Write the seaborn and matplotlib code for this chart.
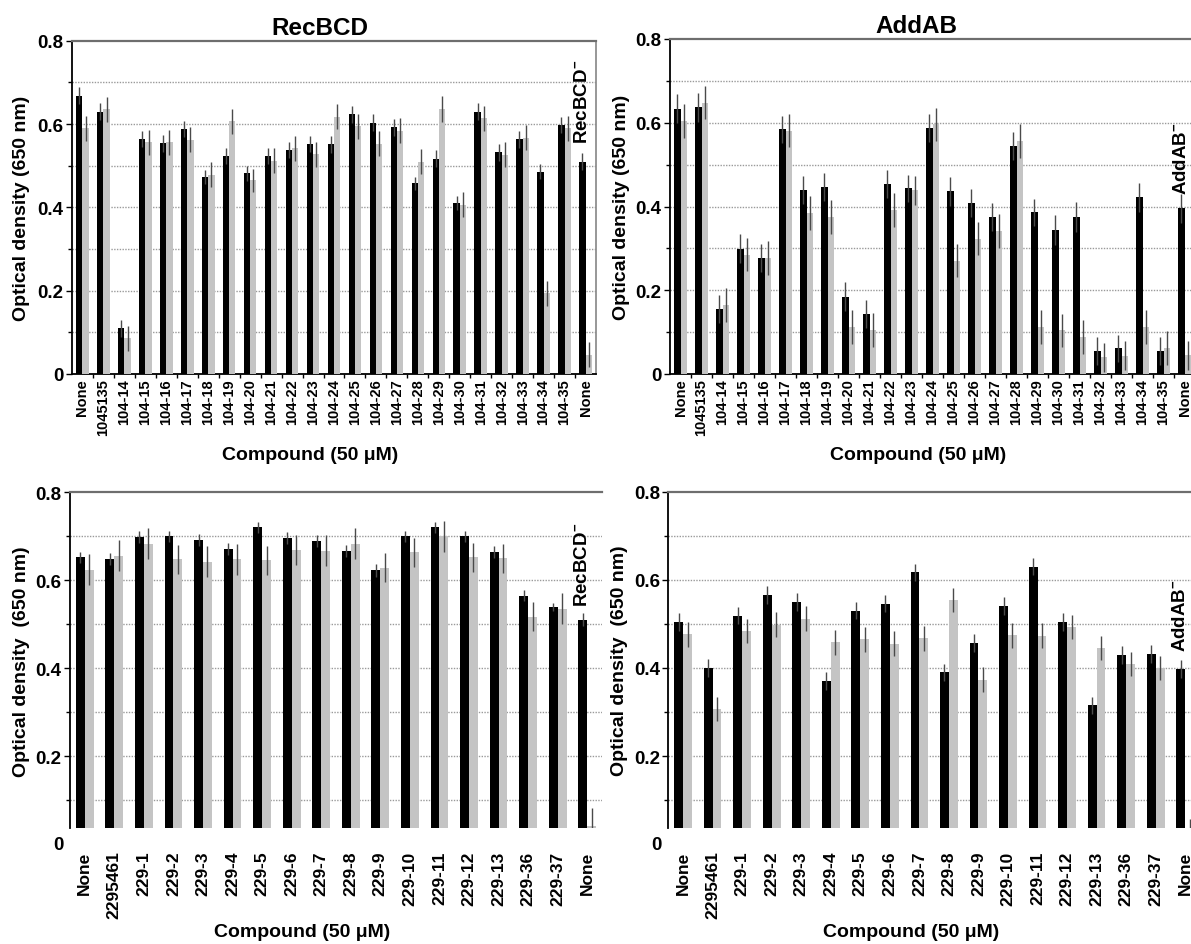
import matplotlib
matplotlib.use("Agg")
import numpy as np
import pandas as pd
import seaborn as sns
import matplotlib.pyplot as plt
import matplotlib.transforms as mtransforms
from matplotlib.ticker import MultipleLocator, FixedLocator

# ---------------- data ----------------
compounds_104 = ["None", "1045135", "104-14", "104-15", "104-16", "104-17", "104-18",
                 "104-19", "104-20", "104-21", "104-22", "104-23", "104-24", "104-25",
                 "104-26", "104-27", "104-28", "104-29", "104-30", "104-31", "104-32",
                 "104-33", "104-34", "104-35", "None"]

recbcd_104_wt = [0.668, 0.630, 0.110, 0.564, 0.554, 0.588, 0.473, 0.523, 0.482, 0.523,
                 0.538, 0.552, 0.551, 0.623, 0.603, 0.592, 0.458, 0.517, 0.410, 0.630,
                 0.532, 0.563, 0.486, 0.598, 0.510]
recbcd_104_wt_err = [0.020, 0.020, 0.020, 0.020, 0.020, 0.020, 0.016, 0.020, 0.018, 0.020,
                     0.020, 0.020, 0.020, 0.020, 0.020, 0.020, 0.016, 0.020, 0.017, 0.020,
                     0.020, 0.020, 0.017, 0.020, 0.020]
recbcd_104_mut = [0.590, 0.635, 0.086, 0.556, 0.556, 0.562, 0.478, 0.607, 0.465, 0.512,
                  0.542, 0.528, 0.618, 0.595, 0.553, 0.584, 0.509, 0.636, 0.406, 0.614,
                  0.526, 0.567, 0.194, 0.590, 0.046]
recbcd_104_mut_err = [0.030, 0.030, 0.030, 0.030, 0.030, 0.030, 0.030, 0.030, 0.028, 0.030,
                      0.030, 0.030, 0.030, 0.030, 0.030, 0.030, 0.030, 0.032, 0.030, 0.030,
                      0.030, 0.030, 0.030, 0.030, 0.030]

addab_104_wt = [0.634, 0.637, 0.155, 0.299, 0.277, 0.584, 0.439, 0.447, 0.185, 0.143,
                0.454, 0.443, 0.588, 0.436, 0.409, 0.375, 0.544, 0.386, 0.344, 0.375,
                0.055, 0.061, 0.422, 0.055, 0.396]
addab_104_wt_err = [0.035, 0.035, 0.033, 0.035, 0.033, 0.033, 0.033, 0.033, 0.035, 0.033,
                    0.033, 0.033, 0.033, 0.035, 0.033, 0.033, 0.033, 0.033, 0.035, 0.035,
                    0.033, 0.033, 0.035, 0.033, 0.035]
addab_104_mut = [0.604, 0.648, 0.165, 0.285, 0.277, 0.581, 0.384, 0.375, 0.112, 0.105,
                 0.392, 0.439, 0.596, 0.271, 0.323, 0.341, 0.556, 0.112, 0.104, 0.088,
                 0.040, 0.044, 0.112, 0.062, 0.045]
addab_104_mut_err = [0.040, 0.040, 0.040, 0.040, 0.040, 0.040, 0.040, 0.040, 0.040, 0.040,
                     0.040, 0.035, 0.040, 0.040, 0.040, 0.040, 0.040, 0.040, 0.040, 0.040,
                     0.035, 0.035, 0.040, 0.040, 0.035]

compounds_229 = ["None", "2295461", "229-1", "229-2", "229-3", "229-4", "229-5", "229-6",
                 "229-7", "229-8", "229-9", "229-10", "229-11", "229-12", "229-13",
                 "229-36", "229-37", "None"]

recbcd_229_wt = [0.652, 0.648, 0.698, 0.700, 0.692, 0.671, 0.720, 0.696, 0.689, 0.667,
                 0.623, 0.700, 0.720, 0.700, 0.664, 0.565, 0.539, 0.510]
recbcd_229_wt_err = [0.013, 0.013, 0.013, 0.013, 0.013, 0.013, 0.013, 0.013, 0.013, 0.013,
                     0.015, 0.013, 0.013, 0.013, 0.013, 0.013, 0.010, 0.015]
recbcd_229_mut = [0.624, 0.656, 0.683, 0.648, 0.642, 0.648, 0.645, 0.669, 0.667, 0.683,
                  0.628, 0.664, 0.700, 0.652, 0.650, 0.517, 0.535, 0.042]
recbcd_229_mut_err = [0.035, 0.035, 0.035, 0.033, 0.035, 0.035, 0.033, 0.035, 0.035, 0.035,
                      0.033, 0.033, 0.035, 0.033, 0.033, 0.033, 0.035, 0.040]

addab_229_wt = [0.504, 0.400, 0.519, 0.565, 0.549, 0.370, 0.530, 0.546, 0.617, 0.390,
                0.456, 0.540, 0.630, 0.504, 0.315, 0.430, 0.432, 0.398]
addab_229_wt_err = [0.020, 0.020, 0.020, 0.020, 0.020, 0.020, 0.020, 0.020, 0.020, 0.020,
                    0.020, 0.020, 0.020, 0.020, 0.020, 0.020, 0.020, 0.020]
addab_229_mut = [0.476, 0.307, 0.484, 0.498, 0.512, 0.458, 0.465, 0.455, 0.467, 0.554,
                 0.373, 0.474, 0.473, 0.493, 0.445, 0.409, 0.400, 0.030]
addab_229_mut_err = [0.028, 0.028, 0.028, 0.028, 0.028, 0.028, 0.028, 0.028, 0.028, 0.028,
                     0.028, 0.028, 0.028, 0.028, 0.028, 0.028, 0.028, 0.028]

titles = ["RecBCD", "AddAB"]
mutant_labels = [r"$\mathbf{RecBCD}^{\mathbf{-}}$", r"$\mathbf{AddAB}^{\mathbf{-}}$"]
ylabel_top = "Optical density (650 nm)"
ylabel_bottom = "Optical density  (650 nm)"
xlabel_text = "Compound (50 μM)"

# ---------------- style ----------------
sns.set_theme(style="white")
plt.rcParams["font.family"] = ["Liberation Sans", "DejaVu Sans"]
plt.rcParams["font.weight"] = "bold"
plt.rcParams["text.color"] = "black"
plt.rcParams["axes.labelcolor"] = "black"
plt.rcParams["xtick.color"] = "black"
plt.rcParams["ytick.color"] = "black"
plt.rcParams["mathtext.fontset"] = "custom"
plt.rcParams["mathtext.rm"] = "Liberation Sans:bold"
plt.rcParams["mathtext.bf"] = "Liberation Sans:bold"
plt.rcParams["mathtext.it"] = "Liberation Sans:italic:bold"

BLACK = "#000000"
GREY = "#c4c4c4"
ERR = "#4a4a4a"
GRID = "#9a9a9a"

fig = plt.figure(figsize=(11.91, 9.45), dpi=100)
W, H = 1191.0, 945.0


def rect(left, top, right, bottom):
    return [left / W, 1 - bottom / H, (right - left) / W, (bottom - top) / H]


def panel(ax, labels, wt, wt_err, mut, mut_err, title, title_x, mut_label, mut_y,
          ylabel, bottom_cut, tick_fs, tick_pad, xlabel_xy, ylabel_x, show_right):
    n = len(labels)
    df = pd.DataFrame({
        "pos": list(range(n)) * 2,
        "strain": ["wt"] * n + ["mut"] * n,
        "od": list(wt) + list(mut),
    })
    sns.barplot(data=df, x="pos", y="od", hue="strain", hue_order=["wt", "mut"],
                palette={"wt": BLACK, "mut": GREY}, width=0.6, errorbar=None,
                saturation=1, linewidth=0, legend=False, ax=ax, zorder=3)
    for cont, errs in zip(ax.containers, [wt_err, mut_err]):
        for p, e in zip(cont, errs):
            xc = p.get_x() + p.get_width() / 2
            h = p.get_height()
            ax.vlines(xc, h - e, h + e, color=ERR, lw=1.0, zorder=4)

    ax.set_xlim(-0.5, n - 0.5)
    ax.set_ylim(bottom_cut, 0.8)
    ticks = [0.2, 0.4, 0.6, 0.8] if bottom_cut > 0 else [0, 0.2, 0.4, 0.6, 0.8]
    ax.yaxis.set_major_locator(FixedLocator(ticks))
    ax.yaxis.set_minor_locator(MultipleLocator(0.1))
    ax.set_yticklabels(["0" if t == 0 else f"{t:.1f}" for t in ticks])
    ax.grid(False)
    for v in np.arange(0.1, 0.75, 0.1):
        ax.axhline(v, color=GRID, lw=1.0, ls=(0, (1, 1)), zorder=1)

    ax.set_xticks(range(n))
    ax.set_xticklabels(labels, rotation=90, fontsize=tick_fs, fontweight="bold")
    ax.tick_params(axis="x", length=0, pad=tick_pad)
    ax.tick_params(axis="y", which="major", length=4, width=1, direction="out",
                   labelsize=13.5, pad=2, left=True)
    ax.tick_params(axis="y", which="minor", length=3, width=1, direction="out", left=True)
    for lab in ax.get_yticklabels():
        lab.set_fontweight("bold")

    ax.spines["left"].set_color("#000000")
    ax.spines["left"].set_linewidth(1.3)
    ax.spines["top"].set_color("#6e6e6e")
    ax.spines["top"].set_linewidth(1.6)
    ax.spines["right"].set_visible(show_right)
    ax.spines["right"].set_color("#8a8a8a")
    if bottom_cut > 0:
        ax.spines["bottom"].set_visible(False)
        tr = mtransforms.blended_transform_factory(ax.transAxes, ax.transData)
        ax.text(-0.012, 0.0, "0", transform=tr, ha="right", va="center",
                fontsize=13.5, fontweight="bold", clip_on=False)
    else:
        ax.spines["bottom"].set_color("#000000")
        ax.spines["bottom"].set_linewidth(1.3)
        ax.xaxis.set_minor_locator(FixedLocator(np.arange(0.5, n - 0.5, 1.0)))
        ax.tick_params(axis="x", which="minor", length=3, width=1, direction="out", bottom=True)

    if title:
        t = ax.set_title(title, fontsize=17.5, fontweight="bold", pad=5)
        t.set_x(title_x)
    ax.set_xlabel(xlabel_text, fontsize=14, fontweight="bold")
    ax.xaxis.set_label_coords(*xlabel_xy)
    ax.set_ylabel(ylabel, fontsize=14, fontweight="bold")
    ax.yaxis.set_label_coords(ylabel_x, 0.5)

    ax.text(n - 1 - 0.15, mut_y, mut_label, rotation=90, ha="center", va="center",
            fontsize=13.5, zorder=6)


ax1 = fig.add_axes(rect(72, 41.7, 596, 375))
panel(ax1, compounds_104, recbcd_104_wt, recbcd_104_wt_err, recbcd_104_mut, recbcd_104_mut_err,
      titles[0], 0.473, mutant_labels[0], 0.655, ylabel_top, 0.0, 10.5, 3, (0.454, -0.216), -0.08, True)

ax2 = fig.add_axes(rect(670, 40, 1195, 375))
panel(ax2, compounds_104, addab_104_wt, addab_104_wt_err, addab_104_mut, addab_104_mut_err,
      titles[1], 0.47, mutant_labels[1], 0.518, ylabel_top, 0.0, 10.5, 3, (0.472, -0.216), -0.076, True)

ax3 = fig.add_axes(rect(70, 493.3, 602, 829.3))
panel(ax3, compounds_229, recbcd_229_wt, recbcd_229_wt_err, recbcd_229_mut, recbcd_229_mut_err,
      None, 0.5, mutant_labels[0], 0.637, ylabel_bottom, 0.036, 12.5, 16, (0.436, -0.282), -0.075, False)

ax4 = fig.add_axes(rect(668.3, 492.7, 1200, 829.3))
panel(ax4, compounds_229, addab_229_wt, addab_229_wt_err, addab_229_mut, addab_229_mut_err,
      None, 0.5, mutant_labels[1], 0.52, ylabel_bottom, 0.036, 12.5, 16, (0.457, -0.282), -0.075, False)

fig.savefig("out.png", dpi=100)
